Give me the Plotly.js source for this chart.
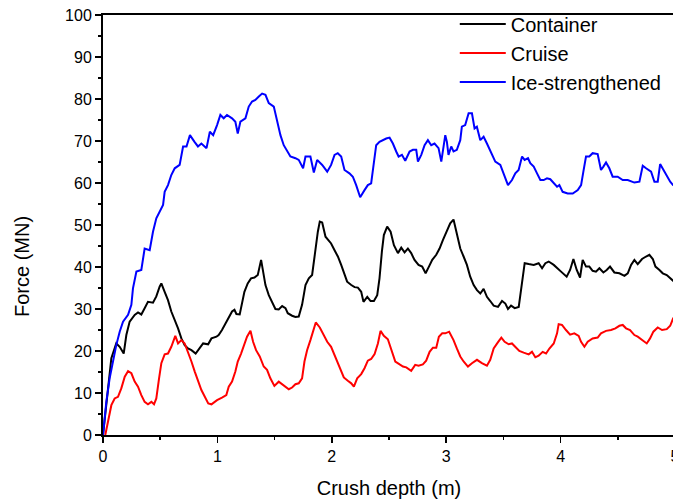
<!DOCTYPE html>
<html>
<head>
<meta charset="utf-8">
<script src="https://cdn.plot.ly/plotly-3.0.1.min.js"></script>
<style>
  html, body { margin: 0; padding: 0; background: #ffffff; overflow: hidden; }
  #chart { width: 680px; height: 499px; }
</style>
</head>
<body>
<div id="chart"></div>
<script>
// Crush force vs. crush depth for three ship bow types

const containerX = [0,0.044,0.073,0.116,0.146,0.181,0.204,0.233,0.277,0.306,0.335,0.364,0.393,0.437,0.466,0.495,0.51,0.539,0.568,0.597,0.627,0.656,0.685,0.714,0.743,0.773,0.81,0.846,0.875,0.919,0.948,0.992,1.011,1.04,1.07,1.099,1.128,1.149,1.166,1.195,1.216,1.236,1.265,1.294,1.324,1.353,1.382,1.405,1.42,1.449,1.478,1.507,1.536,1.566,1.595,1.615,1.653,1.682,1.711,1.74,1.77,1.799,1.828,1.857,1.878,1.895,1.916,1.945,1.974,1.994,2.024,2.053,2.082,2.111,2.134,2.17,2.199,2.228,2.257,2.277,2.31,2.339,2.368,2.397,2.417,2.438,2.455,2.484,2.514,2.543,2.578,2.607,2.636,2.665,2.694,2.723,2.758,2.79,2.82,2.849,2.878,2.913,2.942,2.971,3.006,3.035,3.064,3.093,3.123,3.152,3.181,3.21,3.24,3.269,3.298,3.327,3.356,3.385,3.415,3.453,3.488,3.517,3.54,3.567,3.599,3.634,3.663,3.686,3.721,3.765,3.808,3.838,3.867,3.896,3.94,3.984,4.004,4.053,4.083,4.112,4.141,4.17,4.193,4.222,4.251,4.28,4.309,4.339,4.374,4.403,4.432,4.47,4.514,4.558,4.587,4.616,4.645,4.674,4.712,4.747,4.776,4.806,4.829,4.864,4.893,4.928,4.958,4.984,5.0];
const containerY = [0,11.9,18.3,21.8,21.0,19.4,23.8,27,28.6,29.2,28.7,30.2,31.7,31.5,33,35.3,36.1,34.1,32.1,29.4,27.4,25.4,23,21.4,20.6,20.2,19.4,20.6,21.8,21.6,23,23.4,23.8,25,26.6,27.8,29.4,29.8,28.8,28.7,31.7,34.1,36.1,37.3,37.5,38.1,41.7,37.7,35.7,33.3,31.7,30,29.9,30.7,30.2,29,28.4,28.1,28.2,31,35.7,37.3,38.1,44.4,48.4,50.8,50.6,47.2,46.4,45.6,44,42.5,40.5,38.5,36.5,35.7,35.2,35.1,34.1,31.7,32.9,31.9,31.9,33.3,37.3,43.7,47.6,49.6,48.4,45.2,43.3,44.6,43.5,44.4,43.3,41.7,40.5,40.1,38.5,40.1,41.7,42.9,44.4,46.4,48.4,50.4,51.3,47.6,44.4,42.5,40.5,37.7,35.7,34.5,33.7,34.8,32.9,31.9,30.8,30.5,31.9,31.3,30,30.8,30.2,30.5,35.7,40.9,40.7,40.5,40.9,39.7,40.9,41.3,40.5,39.3,38.9,37.7,39.3,41.9,39.3,37.5,41.7,40.1,40.1,39.1,38.9,39.7,38.7,39.3,40.1,38.7,38.5,37.9,38.5,40.5,41.7,40.7,41.9,42.5,42.9,41.9,40.1,39.3,38.5,38.1,37.3,36.7,36.5];

const cruiseX = [0.02,0.044,0.073,0.102,0.131,0.16,0.19,0.219,0.248,0.277,0.306,0.335,0.364,0.393,0.423,0.446,0.466,0.49,0.51,0.539,0.568,0.597,0.632,0.656,0.685,0.714,0.743,0.773,0.802,0.83,0.86,0.89,0.92,0.948,0.977,0.997,1.04,1.078,1.099,1.128,1.157,1.178,1.207,1.236,1.259,1.289,1.312,1.338,1.37,1.405,1.434,1.463,1.498,1.536,1.566,1.595,1.624,1.653,1.682,1.711,1.74,1.761,1.784,1.813,1.837,1.86,1.895,1.93,1.96,1.994,2.024,2.053,2.082,2.105,2.14,2.17,2.193,2.222,2.257,2.286,2.315,2.344,2.374,2.403,2.426,2.455,2.49,2.514,2.534,2.555,2.593,2.622,2.651,2.694,2.729,2.758,2.796,2.825,2.855,2.884,2.913,2.936,2.965,2.992,3.026,3.064,3.093,3.123,3.152,3.19,3.225,3.269,3.312,3.356,3.385,3.415,3.453,3.482,3.511,3.546,3.575,3.604,3.639,3.677,3.721,3.75,3.779,3.808,3.843,3.873,3.902,3.94,3.969,3.983,4.012,4.047,4.083,4.12,4.158,4.179,4.208,4.237,4.28,4.324,4.353,4.397,4.441,4.479,4.514,4.543,4.572,4.607,4.645,4.674,4.712,4.753,4.782,4.811,4.849,4.887,4.928,4.958,4.984,5.0];
const cruiseY = [0,3.2,7.1,8.7,9.1,11.1,13.9,15.2,14.7,12.7,11.5,9.5,7.9,7.3,7.9,7.3,8.7,13.5,17.1,19.2,19.4,21,23.6,21.8,22.6,21.8,19.8,17.5,15.1,12.7,10.7,9.1,7.5,7.3,7.9,8.3,8.9,9.5,11.5,12.7,15.1,17.5,19.4,21.4,23.4,24.8,22.2,20.2,18.7,16.3,15.5,13.5,11.7,12.7,12.1,11.5,10.9,11.3,12.1,12.3,13.5,17.5,20.2,22.6,25,26.8,25.6,23.8,22.2,21,19,17.1,15.1,13.7,12.9,12.3,11.5,13.5,14.5,15.9,17.7,18.1,19.3,21.8,24.8,23.6,22.8,21,19,17.5,16.8,16.3,16.1,15.3,16.7,16.5,16.8,17.7,19.8,20.8,20.8,23.4,24.2,24.2,24.6,22.6,20.6,18.7,17.5,16.3,17.1,17.9,17.1,16.5,17.9,20.6,22.1,23.2,22.2,21.6,21.8,21,20,19.6,19.2,19.8,18.5,18.9,19.8,19.4,20.6,21.8,24.2,26.4,26.2,25,23.9,24.2,23.6,22.2,21,22.2,23,23.2,24.2,24.8,25,25.4,26,26.2,25.4,25,23.8,23.4,22.6,21.8,23,24.6,25.6,25,25.2,26,27.8,28];

const iceX = [0,0.029,0.058,0.087,0.116,0.146,0.175,0.219,0.248,0.262,0.292,0.335,0.364,0.408,0.437,0.466,0.495,0.525,0.539,0.568,0.597,0.627,0.67,0.7,0.73,0.76,0.8,0.83,0.86,0.905,0.934,0.963,0.997,1.026,1.055,1.084,1.128,1.157,1.178,1.201,1.245,1.274,1.303,1.332,1.362,1.391,1.42,1.449,1.493,1.522,1.551,1.58,1.609,1.638,1.682,1.711,1.749,1.77,1.813,1.843,1.872,1.916,1.96,1.994,2.024,2.052,2.082,2.111,2.154,2.184,2.213,2.248,2.286,2.315,2.344,2.368,2.388,2.417,2.446,2.476,2.505,2.534,2.563,2.584,2.613,2.642,2.68,2.709,2.738,2.753,2.782,2.811,2.84,2.869,2.898,2.933,2.957,2.992,3.006,3.02,3.044,3.064,3.093,3.123,3.137,3.166,3.196,3.225,3.248,3.268,3.298,3.327,3.356,3.4,3.429,3.473,3.502,3.54,3.575,3.604,3.633,3.663,3.686,3.715,3.735,3.765,3.794,3.823,3.852,3.881,3.91,3.94,3.969,3.989,4.018,4.062,4.106,4.15,4.179,4.199,4.222,4.251,4.28,4.324,4.353,4.374,4.397,4.426,4.455,4.499,4.543,4.587,4.616,4.645,4.689,4.718,4.747,4.791,4.82,4.849,4.87,4.899,4.928,4.958,4.984,5.0];
const iceY = [0,7.9,13.5,17.5,21.4,24.6,27,28.6,31,34.9,38.9,39.3,44.4,44,48.4,51.6,53.2,54.8,57.9,59.5,61.9,63.5,64.3,68.7,68.7,71.4,69.8,68.7,69.4,68.3,72.2,71.4,73.8,76.2,75.4,76.2,75.4,74.6,71.8,74.6,75.4,78.2,79.4,79.8,80.6,81.3,81,79,78.2,74.6,71.4,69,67.5,66.3,65.9,65.5,63.5,66.3,66.3,62.5,65.5,64.3,62.7,64.3,66.7,67.1,66.3,63.1,62.3,61.5,59.5,56.6,58.3,59.5,59.9,65.1,69,69.8,70.2,70.6,70.8,69.4,67.5,66.3,66.7,65.3,67.5,67.9,67.9,65.1,66.7,69,70.2,69,69.4,68.3,65.1,71.4,69.8,66.7,68.7,67.5,67.9,70.2,73.4,73.8,76.6,76.6,73,73.4,70.2,71,69.4,66.7,65.1,64.3,62.3,59.5,60.7,62.3,63.1,66.3,65.5,65.9,64.7,63.9,62.3,60.7,60.7,61.1,60.9,59.9,59.1,59.5,57.9,57.5,57.5,58.3,59.5,62.7,66.3,66.3,67.1,66.9,63.1,63.9,64.9,63.5,61.5,61.5,60.7,60.7,60.3,60.1,60.3,64.1,63.5,62.7,60.3,60.3,64.5,63.1,61.9,60.3,59.5,59.3];

const seriesNames = ['Container', 'Cruise', 'Ice-strengthened'];
const seriesColors = ['#000000', '#ff0000', '#0000ff'];

const xTickVals = [0, 1, 2, 3, 4, 5];
const yTickVals = [0, 10, 20, 30, 40, 50, 60, 70, 80, 90, 100];

const FONT = 'Arial, "Liberation Sans", sans-serif';

const traces = [
  [containerX, containerY],
  [cruiseX, cruiseY],
  [iceX, iceY]
].map(([x, y], i) => ({
  x: x,
  y: y,
  type: 'scatter',
  mode: 'lines',
  name: seriesNames[i],
  line: { color: seriesColors[i], width: 2 }
}));

const axisCommon = {
  showgrid: false,
  zeroline: false,
  showline: true,
  linecolor: '#000000',
  linewidth: 2,
  mirror: true,
  ticks: 'outside',
  ticklen: 6,
  tickwidth: 1.5,
  tickcolor: '#000000',
  tickfont: { family: FONT, size: 16, color: '#000000' }
};

const layout = {
  width: 680,
  height: 499,
  margin: { l: 103, r: 5, t: 15, b: 64 },
  paper_bgcolor: '#ffffff',
  plot_bgcolor: '#ffffff',
  font: { family: FONT, color: '#000000' },
  showlegend: true,
  legend: {
    x: 0.615,
    y: 1.025,
    xanchor: 'left',
    yanchor: 'top',
    bgcolor: 'rgba(0,0,0,0)',
    borderwidth: 0,
    itemwidth: 46,
    tracegroupgap: 0,
    font: { family: FONT, size: 20, color: '#000000' }
  },
  xaxis: Object.assign({}, axisCommon, {
    range: [0, 5],
    tickvals: xTickVals,
    ticktext: xTickVals.map(String),
    minor: { dtick: 0.5, ticks: 'outside', ticklen: 3, tickwidth: 1.5, tickcolor: '#000000' },
    title: { text: 'Crush depth (m)', font: { family: FONT, size: 20, color: '#000000' }, standoff: 18 }
  }),
  yaxis: Object.assign({}, axisCommon, {
    range: [0, 100],
    tickvals: yTickVals,
    ticktext: yTickVals.map(String),
    minor: { dtick: 5, ticks: 'outside', ticklen: 3, tickwidth: 1.5, tickcolor: '#000000' }
  }),
  // y-axis label placed as a rotated annotation, sitting a little below the axis midpoint
  annotations: [{
    text: 'Force (MN)',
    xref: 'paper',
    yref: 'paper',
    x: -0.1416,
    y: 0.40,
    xanchor: 'center',
    yanchor: 'middle',
    textangle: -90,
    showarrow: false,
    font: { family: FONT, size: 20, color: '#000000' }
  }]
};

Plotly.newPlot('chart', traces, layout, { displayModeBar: false, staticPlot: true });
</script>
</body>
</html>
